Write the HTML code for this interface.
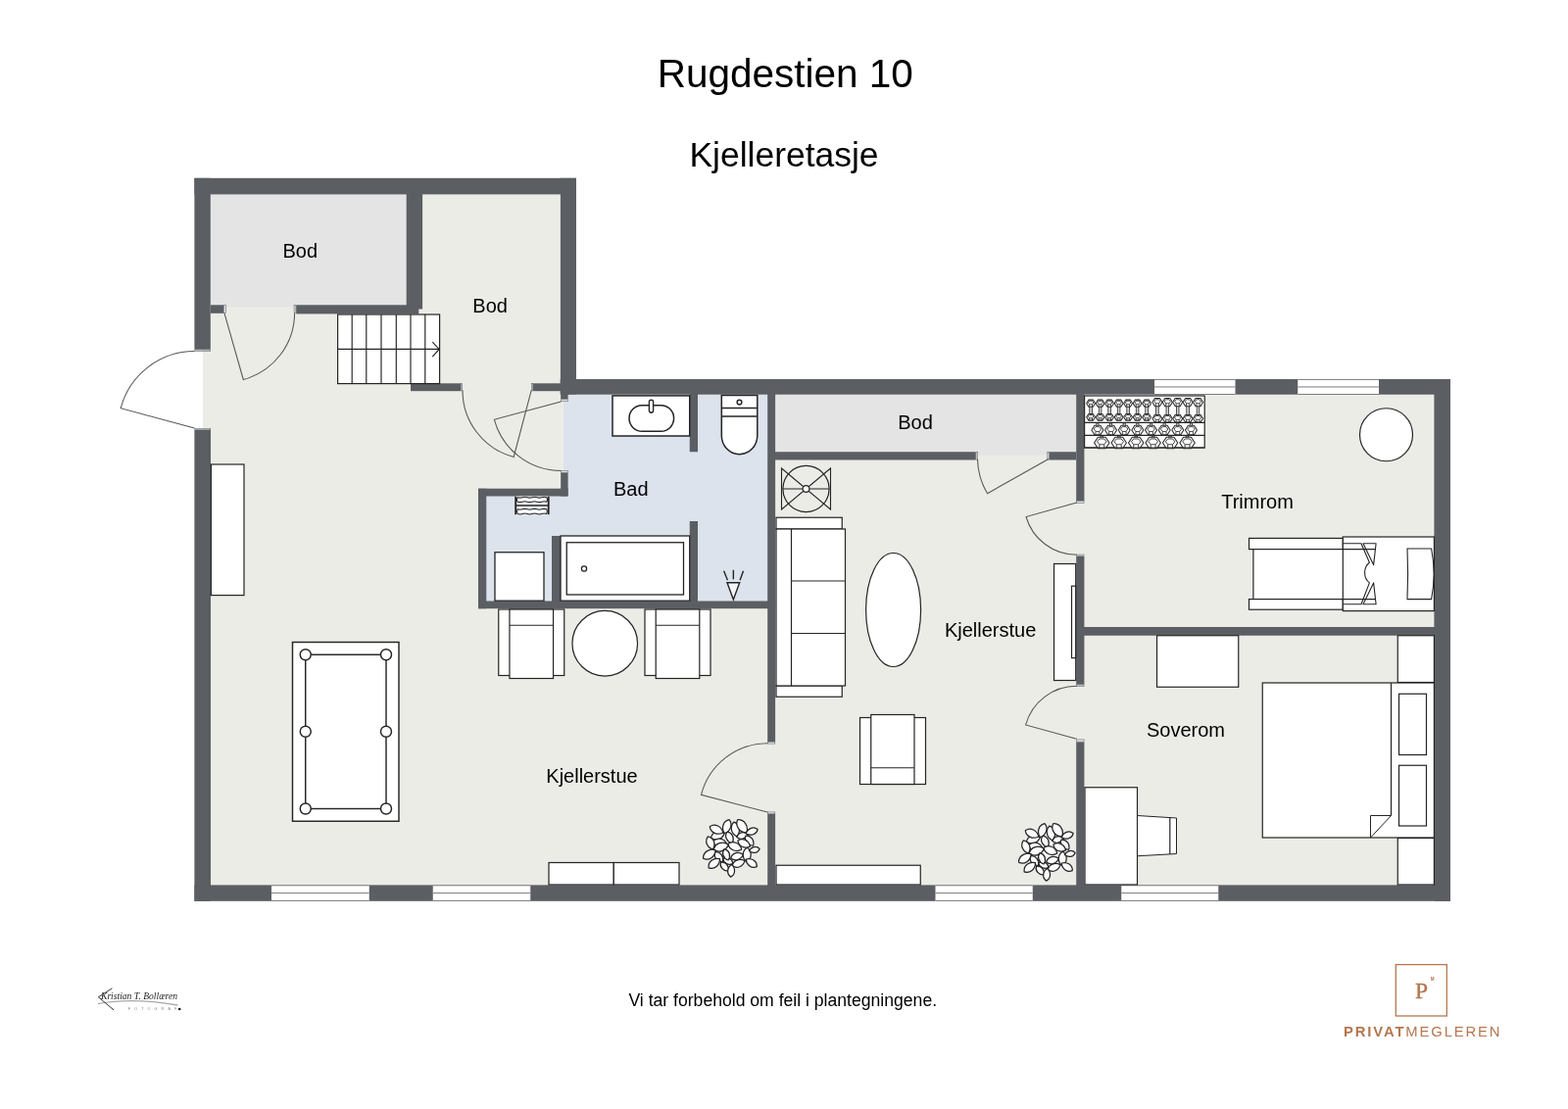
<!DOCTYPE html>
<html lang="no">
<head>
<meta charset="utf-8">
<title>Rugdestien 10 – Kjelleretasje</title>
<style>
html,body{margin:0;padding:0;background:#fff;}
body{width:1600px;height:1132px;overflow:hidden;}
svg{display:block;will-change:transform;}
svg text{font-family:"Liberation Sans",sans-serif;}
</style>
</head>
<body>
<svg width="1600" height="1132" viewBox="0 0 1600 1132">
<rect x="0" y="0" width="1600" height="1132" fill="#ffffff"/>
<path d="M207,190 H580 V395 H1472 V912 H207 Z" fill="#ebece6"/>
<rect x="215.00" y="198.00" width="200.00" height="115.70" fill="#e4e4e4" />
<rect x="790.00" y="402.00" width="308.00" height="62.50" fill="#e4e4e4" />
<path d="M575,402 H784 V614 H496 V506 H575 Z" fill="#dde3ec"/>
<rect x="198.40" y="181.80" width="389.60" height="16.60" fill="#5b5e62" />
<rect x="198.40" y="181.80" width="16.40" height="175.00" fill="#5b5e62" />
<rect x="198.40" y="439.00" width="16.60" height="480.80" fill="#5b5e62" />
<rect x="571.90" y="181.80" width="16.10" height="220.70" fill="#5b5e62" />
<rect x="572.20" y="402.00" width="7.40" height="5.50" fill="#5b5e62" />
<rect x="571.70" y="387.00" width="908.30" height="15.70" fill="#5b5e62" />
<rect x="1463.40" y="387.00" width="16.60" height="532.80" fill="#5b5e62" />
<rect x="198.40" y="903.40" width="1281.60" height="16.40" fill="#5b5e62" />
<rect x="414.70" y="198.00" width="16.40" height="117.50" fill="#5b5e62" />
<rect x="215.00" y="311.30" width="13.00" height="8.50" fill="#5b5e62" />
<rect x="302.20" y="311.30" width="125.10" height="9.10" fill="#5b5e62" />
<rect x="419.00" y="391.30" width="51.00" height="7.90" fill="#5b5e62" />
<rect x="544.00" y="391.30" width="28.00" height="7.90" fill="#5b5e62" />
<rect x="572.20" y="482.40" width="7.40" height="24.10" fill="#5b5e62" />
<rect x="488.00" y="498.70" width="91.60" height="7.80" fill="#5b5e62" />
<rect x="488.00" y="498.75" width="8.25" height="122.50" fill="#5b5e62" />
<rect x="488.00" y="613.50" width="303.10" height="7.70" fill="#5b5e62" />
<rect x="703.75" y="402.00" width="8.25" height="59.25" fill="#5b5e62" />
<rect x="703.75" y="532.00" width="8.25" height="82.00" fill="#5b5e62" />
<rect x="563.00" y="547.00" width="9.00" height="67.00" fill="#5b5e62" />
<rect x="783.20" y="402.00" width="7.90" height="355.00" fill="#5b5e62" />
<rect x="783.20" y="831.00" width="7.90" height="73.00" fill="#5b5e62" />
<rect x="790.00" y="461.25" width="205.75" height="8.25" fill="#5b5e62" />
<rect x="1070.50" y="461.25" width="27.50" height="8.25" fill="#5b5e62" />
<rect x="1098.20" y="402.00" width="8.20" height="109.25" fill="#5b5e62" />
<rect x="1098.20" y="568.00" width="8.20" height="130.75" fill="#5b5e62" />
<rect x="1098.20" y="757.40" width="8.20" height="146.60" fill="#5b5e62" />
<rect x="1106.00" y="640.00" width="358.00" height="8.75" fill="#5b5e62" />
<rect x="198.70" y="357.10" width="16.00" height="1.20" fill="#e6e6e6" stroke="#6a6d71" stroke-width="0.6" />
<rect x="198.70" y="437.50" width="16.00" height="1.20" fill="#e6e6e6" stroke="#6a6d71" stroke-width="0.6" />
<rect x="228.30" y="311.60" width="2.00" height="7.90" fill="#e6e6e6" stroke="#6a6d71" stroke-width="0.6" />
<rect x="300.10" y="311.60" width="1.80" height="7.90" fill="#e6e6e6" stroke="#6a6d71" stroke-width="0.6" />
<rect x="470.30" y="391.60" width="1.40" height="7.30" fill="#e6e6e6" stroke="#6a6d71" stroke-width="0.6" />
<rect x="542.30" y="391.60" width="1.40" height="7.30" fill="#e6e6e6" stroke="#6a6d71" stroke-width="0.6" />
<rect x="572.50" y="407.70" width="6.80" height="2.00" fill="#e6e6e6" stroke="#6a6d71" stroke-width="0.6" />
<rect x="572.50" y="480.50" width="6.80" height="1.80" fill="#e6e6e6" stroke="#6a6d71" stroke-width="0.6" />
<rect x="783.50" y="757.30" width="7.30" height="1.80" fill="#e6e6e6" stroke="#6a6d71" stroke-width="0.6" />
<rect x="783.50" y="828.90" width="7.30" height="1.80" fill="#e6e6e6" stroke="#6a6d71" stroke-width="0.6" />
<rect x="996.05" y="461.55" width="1.65" height="7.65" fill="#e6e6e6" stroke="#6a6d71" stroke-width="0.6" />
<rect x="1068.80" y="461.55" width="1.40" height="7.65" fill="#e6e6e6" stroke="#6a6d71" stroke-width="0.6" />
<rect x="1098.50" y="511.55" width="7.60" height="1.75" fill="#e6e6e6" stroke="#6a6d71" stroke-width="0.6" />
<rect x="1098.50" y="566.10" width="7.60" height="1.60" fill="#e6e6e6" stroke="#6a6d71" stroke-width="0.6" />
<rect x="1098.50" y="699.05" width="7.60" height="1.65" fill="#e6e6e6" stroke="#6a6d71" stroke-width="0.6" />
<rect x="1098.50" y="754.90" width="7.60" height="2.20" fill="#e6e6e6" stroke="#6a6d71" stroke-width="0.6" />
<rect x="277.00" y="903.50" width="99.75" height="16.20" fill="#fff" />
<line x1="277.00" y1="903.80" x2="376.75" y2="903.80" stroke="#7c7c7c" stroke-width="1.0"/>
<line x1="277.00" y1="911.60" x2="376.75" y2="911.60" stroke="#7c7c7c" stroke-width="1.0"/>
<line x1="277.00" y1="919.40" x2="376.75" y2="919.40" stroke="#7c7c7c" stroke-width="1.0"/>
<rect x="441.75" y="903.50" width="99.50" height="16.20" fill="#fff" />
<line x1="441.75" y1="903.80" x2="541.25" y2="903.80" stroke="#7c7c7c" stroke-width="1.0"/>
<line x1="441.75" y1="911.60" x2="541.25" y2="911.60" stroke="#7c7c7c" stroke-width="1.0"/>
<line x1="441.75" y1="919.40" x2="541.25" y2="919.40" stroke="#7c7c7c" stroke-width="1.0"/>
<rect x="954.50" y="903.50" width="99.25" height="16.20" fill="#fff" />
<line x1="954.50" y1="903.80" x2="1053.75" y2="903.80" stroke="#7c7c7c" stroke-width="1.0"/>
<line x1="954.50" y1="911.60" x2="1053.75" y2="911.60" stroke="#7c7c7c" stroke-width="1.0"/>
<line x1="954.50" y1="919.40" x2="1053.75" y2="919.40" stroke="#7c7c7c" stroke-width="1.0"/>
<rect x="1144.25" y="903.50" width="99.00" height="16.20" fill="#fff" />
<line x1="1144.25" y1="903.80" x2="1243.25" y2="903.80" stroke="#7c7c7c" stroke-width="1.0"/>
<line x1="1144.25" y1="911.60" x2="1243.25" y2="911.60" stroke="#7c7c7c" stroke-width="1.0"/>
<line x1="1144.25" y1="919.40" x2="1243.25" y2="919.40" stroke="#7c7c7c" stroke-width="1.0"/>
<rect x="1178.00" y="387.10" width="82.50" height="15.70" fill="#fff" />
<line x1="1178.00" y1="387.40" x2="1260.50" y2="387.40" stroke="#7c7c7c" stroke-width="1.0"/>
<line x1="1178.00" y1="394.95" x2="1260.50" y2="394.95" stroke="#7c7c7c" stroke-width="1.0"/>
<line x1="1178.00" y1="402.50" x2="1260.50" y2="402.50" stroke="#7c7c7c" stroke-width="1.0"/>
<rect x="1324.25" y="387.10" width="82.75" height="15.70" fill="#fff" />
<line x1="1324.25" y1="387.40" x2="1407.00" y2="387.40" stroke="#7c7c7c" stroke-width="1.0"/>
<line x1="1324.25" y1="394.95" x2="1407.00" y2="394.95" stroke="#7c7c7c" stroke-width="1.0"/>
<line x1="1324.25" y1="402.50" x2="1407.00" y2="402.50" stroke="#7c7c7c" stroke-width="1.0"/>
<path d="M198.40,437.00 L123.20,416.70 A77.89,77.89 0 0 1 198.40,358.50" fill="none" stroke="#565656" stroke-width="1.05" />
<path d="M228.90,319.40 L248.30,387.50 A70.81,70.81 0 0 0 300.60,319.40" fill="none" stroke="#565656" stroke-width="1.05" />
<path d="M542.20,398.30 L524.20,466.50 A70.54,70.54 0 0 1 472.00,398.30" fill="none" stroke="#565656" stroke-width="1.05" />
<path d="M572.40,410.00 L504.40,428.30 A70.42,70.42 0 0 0 572.40,480.50" fill="none" stroke="#565656" stroke-width="1.05" />
<path d="M783.25,829.00 L715.50,811.25 A70.04,70.04 0 0 1 783.25,758.75" fill="none" stroke="#565656" stroke-width="1.05" />
<path d="M1069.50,468.75 L1007.50,503.75 A71.20,71.20 0 0 1 997.50,468.75" fill="none" stroke="#565656" stroke-width="1.05" />
<path d="M1098.75,513.00 L1047.00,527.50 A53.74,53.74 0 0 0 1098.75,566.25" fill="none" stroke="#565656" stroke-width="1.05" />
<path d="M1098.60,754.20 L1046.60,739.90 A53.93,53.93 0 0 1 1098.60,700.30" fill="none" stroke="#565656" stroke-width="1.05" />
<rect x="344.60" y="321.00" width="104.00" height="70.60" fill="#fff" stroke="#242424" stroke-width="1.2" />
<line x1="359.20" y1="321.00" x2="359.20" y2="391.60" stroke="#242424" stroke-width="1.15"/>
<line x1="373.80" y1="321.00" x2="373.80" y2="391.60" stroke="#242424" stroke-width="1.15"/>
<line x1="389.00" y1="321.00" x2="389.00" y2="391.60" stroke="#242424" stroke-width="1.15"/>
<line x1="404.30" y1="321.00" x2="404.30" y2="391.60" stroke="#242424" stroke-width="1.15"/>
<line x1="419.00" y1="321.00" x2="419.00" y2="391.60" stroke="#242424" stroke-width="1.15"/>
<line x1="433.80" y1="321.00" x2="433.80" y2="391.60" stroke="#242424" stroke-width="1.15"/>
<line x1="344.60" y1="356.40" x2="448.20" y2="356.40" stroke="#242424" stroke-width="1.2"/>
<path d="M441.3,349.1 L448.1,356.4 L441.3,364.1" fill="none" stroke="#242424" stroke-width="1.2" />
<rect x="215.40" y="474.00" width="33.60" height="133.60" fill="#fff" stroke="#242424" stroke-width="1.2" />
<rect x="298.50" y="655.50" width="108.50" height="182.75" fill="#fff" stroke="#242424" stroke-width="1.45" />
<rect x="311.75" y="668.25" width="82.25" height="157.25" fill="none" stroke="#242424" stroke-width="1.45" />
<circle cx="311.75" cy="668.25" r="5.50" fill="#fff" stroke="#242424" stroke-width="1.45"/>
<circle cx="311.75" cy="746.75" r="5.50" fill="#fff" stroke="#242424" stroke-width="1.45"/>
<circle cx="311.75" cy="825.50" r="5.50" fill="#fff" stroke="#242424" stroke-width="1.45"/>
<circle cx="394.00" cy="668.25" r="5.50" fill="#fff" stroke="#242424" stroke-width="1.45"/>
<circle cx="394.00" cy="746.75" r="5.50" fill="#fff" stroke="#242424" stroke-width="1.45"/>
<circle cx="394.00" cy="825.50" r="5.50" fill="#fff" stroke="#242424" stroke-width="1.45"/>
<rect x="508.75" y="622.00" width="67.00" height="67.50" fill="#fff" stroke="#242424" stroke-width="1.2" />
<rect x="519.95" y="622.00" width="44.60" height="70.50" fill="#fff" stroke="#242424" stroke-width="1.2" />
<line x1="519.95" y1="638.25" x2="564.55" y2="638.25" stroke="#242424" stroke-width="1.2"/>
<rect x="658.00" y="622.00" width="67.00" height="67.50" fill="#fff" stroke="#242424" stroke-width="1.2" />
<rect x="669.20" y="622.00" width="44.60" height="70.50" fill="#fff" stroke="#242424" stroke-width="1.2" />
<line x1="669.20" y1="638.25" x2="713.80" y2="638.25" stroke="#242424" stroke-width="1.2"/>
<circle cx="617.25" cy="656.75" r="33.30" fill="#fff" stroke="#242424" stroke-width="1.2"/>
<rect x="560.00" y="880.50" width="66.25" height="22.50" fill="#fff" stroke="#242424" stroke-width="1.2" />
<rect x="626.25" y="880.50" width="66.75" height="22.50" fill="#fff" stroke="#242424" stroke-width="1.2" />
<rect x="625.00" y="403.90" width="78.75" height="41.10" fill="#fff" stroke="#242424" stroke-width="1.5" />
<rect x="642.00" y="413.70" width="45.60" height="26.60" fill="#fff" stroke="#242424" stroke-width="1.5" rx="13.2" ry="13.2"/>
<rect x="662.40" y="408.20" width="4.20" height="13.00" fill="#fff" stroke="#242424" stroke-width="1.4" rx="2.1" ry="2.1"/>
<path d="M736.3,403.6 H772.8 V444.5 A18.25,19.2 0 0 1 736.3,444.5 Z" fill="#fff" stroke="#242424" stroke-width="1.5" />
<line x1="736.30" y1="416.40" x2="772.80" y2="416.40" stroke="#242424" stroke-width="1.5"/>
<line x1="736.30" y1="424.90" x2="772.80" y2="424.90" stroke="#242424" stroke-width="1.5"/>
<circle cx="754.50" cy="410.60" r="2.40" fill="#fff" stroke="#242424" stroke-width="1.4"/>
<rect x="525.00" y="506.60" width="36.00" height="18.80" fill="#eef1f6" />
<path d="M528.20,507.70 q2.46,0.90 4.92,0 q2.46,-0.90 4.92,0 q2.46,0.90 4.92,0 q2.46,-0.90 4.92,0 q2.46,0.90 4.92,0 q2.46,-0.90 4.92,0 Q559.20,509.95 557.70,512.20 q-2.46,-0.90 -4.92,0 q-2.46,0.90 -4.92,0 q-2.46,-0.90 -4.92,0 q-2.46,0.90 -4.92,0 q-2.46,-0.90 -4.92,0 q-2.46,0.90 -4.92,0 Q526.70,509.95 528.20,507.70 Z" fill="#fff" stroke="#242424" stroke-width="1.1" />
<path d="M528.20,519.80 q2.46,0.90 4.92,0 q2.46,-0.90 4.92,0 q2.46,0.90 4.92,0 q2.46,-0.90 4.92,0 q2.46,0.90 4.92,0 q2.46,-0.90 4.92,0 Q559.20,522.15 557.70,524.50 q-2.46,-0.90 -4.92,0 q-2.46,0.90 -4.92,0 q-2.46,-0.90 -4.92,0 q-2.46,0.90 -4.92,0 q-2.46,-0.90 -4.92,0 q-2.46,0.90 -4.92,0 Q526.70,522.15 528.20,519.80 Z" fill="#fff" stroke="#242424" stroke-width="1.1" />
<line x1="526.20" y1="515.90" x2="559.70" y2="515.90" stroke="#242424" stroke-width="1.5"/>
<line x1="526.20" y1="506.60" x2="526.20" y2="525.20" stroke="#242424" stroke-width="1.9"/>
<line x1="559.70" y1="506.60" x2="559.70" y2="525.20" stroke="#242424" stroke-width="1.9"/>
<rect x="505.00" y="563.75" width="50.00" height="49.45" fill="#fff" stroke="#242424" stroke-width="1.3" />
<rect x="572.00" y="547.00" width="131.75" height="66.20" fill="#fff" stroke="#242424" stroke-width="1.3" />
<rect x="578.25" y="553.75" width="119.25" height="53.25" fill="#fff" stroke="#242424" stroke-width="1.3" />
<circle cx="596.00" cy="580.50" r="2.60" fill="#fff" stroke="#242424" stroke-width="1.3"/>
<path d="M742,594.7 H754.7 L748.35,611.9 Z" fill="#f4f6f9" stroke="#242424" stroke-width="1.4" stroke-linejoin="miter"/>
<line x1="738.60" y1="582.70" x2="742.40" y2="592.20" stroke="#242424" stroke-width="1.4"/>
<line x1="748.35" y1="581.80" x2="748.35" y2="591.30" stroke="#242424" stroke-width="1.4"/>
<line x1="758.50" y1="582.70" x2="755.10" y2="592.20" stroke="#242424" stroke-width="1.4"/>
<circle cx="822.50" cy="499.00" r="23.60" fill="none" stroke="#242424" stroke-width="1.2"/>
<path d="M797.5,478 V520 L847.5,478 V520 Z" fill="none" stroke="#242424" stroke-width="1.1" />
<line x1="799.00" y1="499.00" x2="846.00" y2="499.00" stroke="#242424" stroke-width="1.2"/>
<circle cx="822.50" cy="499.00" r="3.40" fill="#fff" stroke="#242424" stroke-width="1.2"/>
<rect x="792.00" y="528.25" width="67.25" height="11.75" fill="#fff" stroke="#242424" stroke-width="1.2" />
<rect x="792.00" y="700.00" width="67.25" height="11.25" fill="#fff" stroke="#242424" stroke-width="1.2" />
<rect x="792.00" y="540.00" width="70.50" height="160.00" fill="#fff" stroke="#242424" stroke-width="1.2" />
<line x1="807.50" y1="540.00" x2="807.50" y2="700.00" stroke="#242424" stroke-width="1.2"/>
<line x1="807.50" y1="593.00" x2="862.50" y2="593.00" stroke="#242424" stroke-width="1.2"/>
<line x1="807.50" y1="646.50" x2="862.50" y2="646.50" stroke="#242424" stroke-width="1.2"/>
<ellipse cx="911.60" cy="622.50" rx="28.00" ry="58.00" fill="#fff" stroke="#242424" stroke-width="1.2"/>
<rect x="1075.50" y="575.50" width="22.20" height="119.00" fill="#fff" stroke="#242424" stroke-width="1.2" />
<rect x="1093.50" y="598.20" width="4.20" height="73.40" fill="#fff" stroke="#242424" stroke-width="1.2" />
<rect x="877.50" y="732.50" width="67.00" height="68.00" fill="#fff" stroke="#242424" stroke-width="1.2" />
<rect x="888.75" y="729.50" width="44.25" height="71.00" fill="#fff" stroke="#242424" stroke-width="1.2" />
<line x1="888.75" y1="783.75" x2="933.00" y2="783.75" stroke="#242424" stroke-width="1.2"/>
<rect x="792.00" y="883.25" width="147.25" height="19.75" fill="#fff" stroke="#242424" stroke-width="1.2" />
<circle cx="746.50" cy="865.31" r="19" fill="#fcfcfc"/>
<path d="M725.46,855.10 C730.17,859.08 737.11,856.77 739.33,850.48 C733.78,846.78 726.84,849.09 725.46,855.10 Z" fill="#fcfcfc" stroke="#242424" stroke-width="1.25" stroke-linejoin="round"/>
<path d="M727.43,858.88 C729.67,864.58 736.82,865.85 741.73,861.40 C738.63,855.55 731.48,854.29 727.43,858.88 Z" fill="#fcfcfc" stroke="#242424" stroke-width="1.25" stroke-linejoin="round"/>
<path d="M728.24,867.03 C733.36,871.35 740.89,868.83 743.30,862.00 C737.28,857.99 729.74,860.50 728.24,867.03 Z" fill="#fcfcfc" stroke="#242424" stroke-width="1.25" stroke-linejoin="round"/>
<path d="M729.55,869.77 C727.81,874.82 731.85,879.70 737.62,879.53 C738.87,873.90 734.84,869.02 729.55,869.77 Z" fill="#fcfcfc" stroke="#242424" stroke-width="1.25" stroke-linejoin="round"/>
<path d="M751.68,854.27 C755.13,857.85 760.89,856.57 763.19,851.71 C759.04,848.28 753.29,849.56 751.68,854.27 Z" fill="#fcfcfc" stroke="#242424" stroke-width="1.25" stroke-linejoin="round"/>
<path d="M760.97,853.07 C758.98,858.05 762.80,863.14 768.60,863.25 C770.13,857.65 766.31,852.56 760.97,853.07 Z" fill="#fcfcfc" stroke="#242424" stroke-width="1.25" stroke-linejoin="round"/>
<path d="M752.90,857.99 C753.55,863.84 759.88,866.79 765.55,863.89 C764.13,857.68 757.80,854.73 752.90,857.99 Z" fill="#fcfcfc" stroke="#242424" stroke-width="1.25" stroke-linejoin="round"/>
<path d="M737.79,876.67 C738.36,881.40 743.49,883.75 748.06,881.37 C746.88,876.36 741.74,874.01 737.79,876.67 Z" fill="#fcfcfc" stroke="#242424" stroke-width="1.25" stroke-linejoin="round"/>
<path d="M747.32,883.74 C751.93,887.19 758.27,884.65 759.99,878.67 C754.62,875.53 748.29,878.07 747.32,883.74 Z" fill="#fcfcfc" stroke="#242424" stroke-width="1.25" stroke-linejoin="round"/>
<path d="M745.72,875.75 C749.73,879.57 756.08,877.88 758.42,872.36 C753.64,868.74 747.29,870.43 745.72,875.75 Z" fill="#fcfcfc" stroke="#242424" stroke-width="1.25" stroke-linejoin="round"/>
<path d="M741.97,849.04 C738.82,853.48 741.36,859.42 747.06,860.91 C749.90,855.76 747.36,849.82 741.97,849.04 Z" fill="#fcfcfc" stroke="#242424" stroke-width="1.25" stroke-linejoin="round"/>
<path d="M742.95,861.18 C743.89,867.46 750.81,870.40 756.81,867.06 C755.04,860.42 748.12,857.49 742.95,861.18 Z" fill="#fcfcfc" stroke="#242424" stroke-width="1.25" stroke-linejoin="round"/>
<path d="M739.22,866.52 C735.93,870.43 737.84,876.17 743.05,878.01 C746.12,873.41 744.20,867.67 739.22,866.52 Z" fill="#fcfcfc" stroke="#242424" stroke-width="1.25" stroke-linejoin="round"/>
<path d="M762.41,865.31 C757.02,868.39 756.81,875.75 761.99,880.02 C767.41,876.05 767.62,868.70 762.41,865.31 Z" fill="#fcfcfc" stroke="#242424" stroke-width="1.25" stroke-linejoin="round"/>
<path d="M724.28,843.68 C724.97,849.90 731.69,853.05 737.72,849.98 C736.23,843.38 729.51,840.22 724.28,843.68 Z" fill="#fcfcfc" stroke="#242424" stroke-width="1.25" stroke-linejoin="round"/>
<path d="M744.09,836.71 C738.03,838.01 735.59,844.94 739.22,850.58 C745.57,848.46 748.01,841.52 744.09,836.71 Z" fill="#fcfcfc" stroke="#242424" stroke-width="1.25" stroke-linejoin="round"/>
<path d="M749.05,839.08 C744.35,843.28 745.70,850.63 751.74,853.78 C756.28,848.70 754.94,841.35 749.05,839.08 Z" fill="#fcfcfc" stroke="#242424" stroke-width="1.25" stroke-linejoin="round"/>
<path d="M752.64,836.76 C749.84,843.02 754.44,849.70 761.83,850.14 C764.07,843.08 759.47,836.39 752.64,836.76 Z" fill="#fcfcfc" stroke="#242424" stroke-width="1.25" stroke-linejoin="round"/>
<path d="M773.11,846.50 C768.97,843.15 763.03,845.27 761.23,850.74 C766.08,853.83 772.02,851.71 773.11,846.50 Z" fill="#fcfcfc" stroke="#242424" stroke-width="1.25" stroke-linejoin="round"/>
<path d="M722.35,853.81 C718.79,858.57 721.41,865.10 727.57,866.87 C730.81,861.33 728.20,854.80 722.35,853.81 Z" fill="#fcfcfc" stroke="#242424" stroke-width="1.25" stroke-linejoin="round"/>
<path d="M717.55,876.26 C723.34,878.95 729.64,874.75 730.14,867.87 C723.60,865.69 717.30,869.88 717.55,876.26 Z" fill="#fcfcfc" stroke="#242424" stroke-width="1.25" stroke-linejoin="round"/>
<path d="M723.14,885.83 C728.97,887.88 734.64,883.26 734.49,876.58 C727.98,875.09 722.31,879.71 723.14,885.83 Z" fill="#fcfcfc" stroke="#242424" stroke-width="1.25" stroke-linejoin="round"/>
<path d="M735.51,880.11 C733.98,884.84 737.81,889.32 743.19,889.06 C744.26,883.79 740.42,879.32 735.51,880.11 Z" fill="#fcfcfc" stroke="#242424" stroke-width="1.25" stroke-linejoin="round"/>
<path d="M745.68,895.12 C750.45,892.63 750.87,886.27 746.53,882.40 C741.71,885.66 741.29,892.02 745.68,895.12 Z" fill="#fcfcfc" stroke="#242424" stroke-width="1.25" stroke-linejoin="round"/>
<path d="M772.27,884.62 C772.59,878.98 767.09,875.18 761.28,877.01 C761.62,883.09 767.11,886.90 772.27,884.62 Z" fill="#fcfcfc" stroke="#242424" stroke-width="1.25" stroke-linejoin="round"/>
<path d="M775.11,866.42 C771.98,863.04 766.62,864.11 764.39,868.57 C768.17,871.83 773.53,870.76 775.11,866.42 Z" fill="#fcfcfc" stroke="#242424" stroke-width="1.25" stroke-linejoin="round"/>
<circle cx="1068.50" cy="869.31" r="19" fill="#fcfcfc"/>
<path d="M1047.46,859.10 C1052.17,863.08 1059.11,860.77 1061.33,854.48 C1055.78,850.78 1048.84,853.09 1047.46,859.10 Z" fill="#fcfcfc" stroke="#242424" stroke-width="1.25" stroke-linejoin="round"/>
<path d="M1049.43,862.88 C1051.67,868.58 1058.82,869.85 1063.73,865.40 C1060.63,859.55 1053.48,858.29 1049.43,862.88 Z" fill="#fcfcfc" stroke="#242424" stroke-width="1.25" stroke-linejoin="round"/>
<path d="M1050.24,871.03 C1055.36,875.35 1062.89,872.83 1065.30,866.00 C1059.28,861.99 1051.74,864.50 1050.24,871.03 Z" fill="#fcfcfc" stroke="#242424" stroke-width="1.25" stroke-linejoin="round"/>
<path d="M1051.55,873.77 C1049.81,878.82 1053.85,883.70 1059.62,883.53 C1060.87,877.90 1056.84,873.02 1051.55,873.77 Z" fill="#fcfcfc" stroke="#242424" stroke-width="1.25" stroke-linejoin="round"/>
<path d="M1073.68,858.27 C1077.13,861.85 1082.89,860.57 1085.19,855.71 C1081.04,852.28 1075.29,853.56 1073.68,858.27 Z" fill="#fcfcfc" stroke="#242424" stroke-width="1.25" stroke-linejoin="round"/>
<path d="M1082.97,857.07 C1080.98,862.05 1084.80,867.14 1090.60,867.25 C1092.13,861.65 1088.31,856.56 1082.97,857.07 Z" fill="#fcfcfc" stroke="#242424" stroke-width="1.25" stroke-linejoin="round"/>
<path d="M1074.90,861.99 C1075.55,867.84 1081.88,870.79 1087.55,867.89 C1086.13,861.68 1079.80,858.73 1074.90,861.99 Z" fill="#fcfcfc" stroke="#242424" stroke-width="1.25" stroke-linejoin="round"/>
<path d="M1059.79,880.67 C1060.36,885.40 1065.49,887.75 1070.06,885.37 C1068.88,880.36 1063.74,878.01 1059.79,880.67 Z" fill="#fcfcfc" stroke="#242424" stroke-width="1.25" stroke-linejoin="round"/>
<path d="M1069.32,887.74 C1073.93,891.19 1080.27,888.65 1081.99,882.67 C1076.62,879.53 1070.29,882.07 1069.32,887.74 Z" fill="#fcfcfc" stroke="#242424" stroke-width="1.25" stroke-linejoin="round"/>
<path d="M1067.72,879.75 C1071.73,883.57 1078.08,881.88 1080.42,876.36 C1075.64,872.74 1069.29,874.43 1067.72,879.75 Z" fill="#fcfcfc" stroke="#242424" stroke-width="1.25" stroke-linejoin="round"/>
<path d="M1063.97,853.04 C1060.82,857.48 1063.36,863.42 1069.06,864.91 C1071.90,859.76 1069.36,853.82 1063.97,853.04 Z" fill="#fcfcfc" stroke="#242424" stroke-width="1.25" stroke-linejoin="round"/>
<path d="M1064.95,865.18 C1065.89,871.46 1072.81,874.40 1078.81,871.06 C1077.04,864.42 1070.12,861.49 1064.95,865.18 Z" fill="#fcfcfc" stroke="#242424" stroke-width="1.25" stroke-linejoin="round"/>
<path d="M1061.22,870.52 C1057.93,874.43 1059.84,880.17 1065.05,882.01 C1068.12,877.41 1066.20,871.67 1061.22,870.52 Z" fill="#fcfcfc" stroke="#242424" stroke-width="1.25" stroke-linejoin="round"/>
<path d="M1084.41,869.31 C1079.02,872.39 1078.81,879.75 1083.99,884.02 C1089.41,880.05 1089.62,872.70 1084.41,869.31 Z" fill="#fcfcfc" stroke="#242424" stroke-width="1.25" stroke-linejoin="round"/>
<path d="M1046.28,847.68 C1046.97,853.90 1053.69,857.05 1059.72,853.98 C1058.23,847.38 1051.51,844.22 1046.28,847.68 Z" fill="#fcfcfc" stroke="#242424" stroke-width="1.25" stroke-linejoin="round"/>
<path d="M1066.09,840.71 C1060.03,842.01 1057.59,848.94 1061.22,854.58 C1067.57,852.46 1070.01,845.52 1066.09,840.71 Z" fill="#fcfcfc" stroke="#242424" stroke-width="1.25" stroke-linejoin="round"/>
<path d="M1071.05,843.08 C1066.35,847.28 1067.70,854.63 1073.74,857.78 C1078.28,852.70 1076.94,845.35 1071.05,843.08 Z" fill="#fcfcfc" stroke="#242424" stroke-width="1.25" stroke-linejoin="round"/>
<path d="M1074.64,840.76 C1071.84,847.02 1076.44,853.70 1083.83,854.14 C1086.07,847.08 1081.47,840.39 1074.64,840.76 Z" fill="#fcfcfc" stroke="#242424" stroke-width="1.25" stroke-linejoin="round"/>
<path d="M1095.11,850.50 C1090.97,847.15 1085.03,849.27 1083.23,854.74 C1088.08,857.83 1094.02,855.71 1095.11,850.50 Z" fill="#fcfcfc" stroke="#242424" stroke-width="1.25" stroke-linejoin="round"/>
<path d="M1044.35,857.81 C1040.79,862.57 1043.41,869.10 1049.57,870.87 C1052.81,865.33 1050.20,858.80 1044.35,857.81 Z" fill="#fcfcfc" stroke="#242424" stroke-width="1.25" stroke-linejoin="round"/>
<path d="M1039.55,880.26 C1045.34,882.95 1051.64,878.75 1052.14,871.87 C1045.60,869.69 1039.30,873.88 1039.55,880.26 Z" fill="#fcfcfc" stroke="#242424" stroke-width="1.25" stroke-linejoin="round"/>
<path d="M1045.14,889.83 C1050.97,891.88 1056.64,887.26 1056.49,880.58 C1049.98,879.09 1044.31,883.71 1045.14,889.83 Z" fill="#fcfcfc" stroke="#242424" stroke-width="1.25" stroke-linejoin="round"/>
<path d="M1057.51,884.11 C1055.98,888.84 1059.81,893.32 1065.19,893.06 C1066.26,887.79 1062.42,883.32 1057.51,884.11 Z" fill="#fcfcfc" stroke="#242424" stroke-width="1.25" stroke-linejoin="round"/>
<path d="M1067.68,899.12 C1072.45,896.63 1072.87,890.27 1068.53,886.40 C1063.71,889.66 1063.29,896.02 1067.68,899.12 Z" fill="#fcfcfc" stroke="#242424" stroke-width="1.25" stroke-linejoin="round"/>
<path d="M1094.27,888.62 C1094.59,882.98 1089.09,879.18 1083.28,881.01 C1083.62,887.09 1089.11,890.90 1094.27,888.62 Z" fill="#fcfcfc" stroke="#242424" stroke-width="1.25" stroke-linejoin="round"/>
<path d="M1097.11,870.42 C1093.98,867.04 1088.62,868.11 1086.39,872.57 C1090.17,875.83 1095.53,874.76 1097.11,870.42 Z" fill="#fcfcfc" stroke="#242424" stroke-width="1.25" stroke-linejoin="round"/>
<rect x="1106.60" y="404.00" width="122.60" height="53.00" fill="#fff" stroke="#242424" stroke-width="1.2" />
<rect x="1111.80" y="414.50" width="2.60" height="9.00" fill="#d0d0d0" stroke="#2a2a2a" stroke-width="0.8" />
<path d="M1108.70,411.70 L1110.90,408.10 L1115.30,408.10 L1117.50,411.70 L1115.30,415.30 L1110.90,415.30 Z" fill="#fff" stroke="#2a2a2a" stroke-width="1.05" stroke-linejoin="round"/>
<path d="M1110.37,410.98 L1111.74,409.18 L1114.46,409.18 L1115.83,410.98 L1114.46,412.78 L1111.74,412.78 Z" fill="#fff" stroke="#2a2a2a" stroke-width="0.8400000000000001" stroke-linejoin="round"/>
<line x1="1111.69" y1="412.78" x2="1111.69" y2="415.30" stroke="#2a2a2a" stroke-width="0.8400000000000001"/>
<line x1="1114.51" y1="412.78" x2="1114.51" y2="415.30" stroke="#2a2a2a" stroke-width="0.8400000000000001"/>
<path d="M1108.70,425.80 L1110.90,422.50 L1115.30,422.50 L1117.50,425.80 L1115.30,429.10 L1110.90,429.10 Z" fill="#fff" stroke="#2a2a2a" stroke-width="1.05" stroke-linejoin="round"/>
<path d="M1110.37,425.14 L1111.74,423.49 L1114.46,423.49 L1115.83,425.14 L1114.46,426.79 L1111.74,426.79 Z" fill="#fff" stroke="#2a2a2a" stroke-width="0.8400000000000001" stroke-linejoin="round"/>
<line x1="1111.69" y1="426.79" x2="1111.69" y2="429.10" stroke="#2a2a2a" stroke-width="0.8400000000000001"/>
<line x1="1114.51" y1="426.79" x2="1114.51" y2="429.10" stroke="#2a2a2a" stroke-width="0.8400000000000001"/>
<rect x="1121.30" y="414.50" width="2.60" height="9.00" fill="#d0d0d0" stroke="#2a2a2a" stroke-width="0.8" />
<path d="M1118.20,411.70 L1120.40,408.10 L1124.80,408.10 L1127.00,411.70 L1124.80,415.30 L1120.40,415.30 Z" fill="#fff" stroke="#2a2a2a" stroke-width="1.05" stroke-linejoin="round"/>
<path d="M1119.87,410.98 L1121.24,409.18 L1123.96,409.18 L1125.33,410.98 L1123.96,412.78 L1121.24,412.78 Z" fill="#fff" stroke="#2a2a2a" stroke-width="0.8400000000000001" stroke-linejoin="round"/>
<line x1="1121.19" y1="412.78" x2="1121.19" y2="415.30" stroke="#2a2a2a" stroke-width="0.8400000000000001"/>
<line x1="1124.01" y1="412.78" x2="1124.01" y2="415.30" stroke="#2a2a2a" stroke-width="0.8400000000000001"/>
<path d="M1118.20,425.80 L1120.40,422.50 L1124.80,422.50 L1127.00,425.80 L1124.80,429.10 L1120.40,429.10 Z" fill="#fff" stroke="#2a2a2a" stroke-width="1.05" stroke-linejoin="round"/>
<path d="M1119.87,425.14 L1121.24,423.49 L1123.96,423.49 L1125.33,425.14 L1123.96,426.79 L1121.24,426.79 Z" fill="#fff" stroke="#2a2a2a" stroke-width="0.8400000000000001" stroke-linejoin="round"/>
<line x1="1121.19" y1="426.79" x2="1121.19" y2="429.10" stroke="#2a2a2a" stroke-width="0.8400000000000001"/>
<line x1="1124.01" y1="426.79" x2="1124.01" y2="429.10" stroke="#2a2a2a" stroke-width="0.8400000000000001"/>
<rect x="1130.80" y="414.50" width="2.60" height="9.00" fill="#d0d0d0" stroke="#2a2a2a" stroke-width="0.8" />
<path d="M1127.70,411.70 L1129.90,408.10 L1134.30,408.10 L1136.50,411.70 L1134.30,415.30 L1129.90,415.30 Z" fill="#fff" stroke="#2a2a2a" stroke-width="1.05" stroke-linejoin="round"/>
<path d="M1129.37,410.98 L1130.74,409.18 L1133.46,409.18 L1134.83,410.98 L1133.46,412.78 L1130.74,412.78 Z" fill="#fff" stroke="#2a2a2a" stroke-width="0.8400000000000001" stroke-linejoin="round"/>
<line x1="1130.69" y1="412.78" x2="1130.69" y2="415.30" stroke="#2a2a2a" stroke-width="0.8400000000000001"/>
<line x1="1133.51" y1="412.78" x2="1133.51" y2="415.30" stroke="#2a2a2a" stroke-width="0.8400000000000001"/>
<path d="M1127.70,425.80 L1129.90,422.50 L1134.30,422.50 L1136.50,425.80 L1134.30,429.10 L1129.90,429.10 Z" fill="#fff" stroke="#2a2a2a" stroke-width="1.05" stroke-linejoin="round"/>
<path d="M1129.37,425.14 L1130.74,423.49 L1133.46,423.49 L1134.83,425.14 L1133.46,426.79 L1130.74,426.79 Z" fill="#fff" stroke="#2a2a2a" stroke-width="0.8400000000000001" stroke-linejoin="round"/>
<line x1="1130.69" y1="426.79" x2="1130.69" y2="429.10" stroke="#2a2a2a" stroke-width="0.8400000000000001"/>
<line x1="1133.51" y1="426.79" x2="1133.51" y2="429.10" stroke="#2a2a2a" stroke-width="0.8400000000000001"/>
<rect x="1140.30" y="414.50" width="2.60" height="9.00" fill="#d0d0d0" stroke="#2a2a2a" stroke-width="0.8" />
<path d="M1137.20,411.70 L1139.40,408.10 L1143.80,408.10 L1146.00,411.70 L1143.80,415.30 L1139.40,415.30 Z" fill="#fff" stroke="#2a2a2a" stroke-width="1.05" stroke-linejoin="round"/>
<path d="M1138.87,410.98 L1140.24,409.18 L1142.96,409.18 L1144.33,410.98 L1142.96,412.78 L1140.24,412.78 Z" fill="#fff" stroke="#2a2a2a" stroke-width="0.8400000000000001" stroke-linejoin="round"/>
<line x1="1140.19" y1="412.78" x2="1140.19" y2="415.30" stroke="#2a2a2a" stroke-width="0.8400000000000001"/>
<line x1="1143.01" y1="412.78" x2="1143.01" y2="415.30" stroke="#2a2a2a" stroke-width="0.8400000000000001"/>
<path d="M1137.20,425.80 L1139.40,422.50 L1143.80,422.50 L1146.00,425.80 L1143.80,429.10 L1139.40,429.10 Z" fill="#fff" stroke="#2a2a2a" stroke-width="1.05" stroke-linejoin="round"/>
<path d="M1138.87,425.14 L1140.24,423.49 L1142.96,423.49 L1144.33,425.14 L1142.96,426.79 L1140.24,426.79 Z" fill="#fff" stroke="#2a2a2a" stroke-width="0.8400000000000001" stroke-linejoin="round"/>
<line x1="1140.19" y1="426.79" x2="1140.19" y2="429.10" stroke="#2a2a2a" stroke-width="0.8400000000000001"/>
<line x1="1143.01" y1="426.79" x2="1143.01" y2="429.10" stroke="#2a2a2a" stroke-width="0.8400000000000001"/>
<rect x="1149.80" y="414.50" width="2.60" height="9.00" fill="#d0d0d0" stroke="#2a2a2a" stroke-width="0.8" />
<path d="M1146.70,411.70 L1148.90,408.10 L1153.30,408.10 L1155.50,411.70 L1153.30,415.30 L1148.90,415.30 Z" fill="#fff" stroke="#2a2a2a" stroke-width="1.05" stroke-linejoin="round"/>
<path d="M1148.37,410.98 L1149.74,409.18 L1152.46,409.18 L1153.83,410.98 L1152.46,412.78 L1149.74,412.78 Z" fill="#fff" stroke="#2a2a2a" stroke-width="0.8400000000000001" stroke-linejoin="round"/>
<line x1="1149.69" y1="412.78" x2="1149.69" y2="415.30" stroke="#2a2a2a" stroke-width="0.8400000000000001"/>
<line x1="1152.51" y1="412.78" x2="1152.51" y2="415.30" stroke="#2a2a2a" stroke-width="0.8400000000000001"/>
<path d="M1146.70,425.80 L1148.90,422.50 L1153.30,422.50 L1155.50,425.80 L1153.30,429.10 L1148.90,429.10 Z" fill="#fff" stroke="#2a2a2a" stroke-width="1.05" stroke-linejoin="round"/>
<path d="M1148.37,425.14 L1149.74,423.49 L1152.46,423.49 L1153.83,425.14 L1152.46,426.79 L1149.74,426.79 Z" fill="#fff" stroke="#2a2a2a" stroke-width="0.8400000000000001" stroke-linejoin="round"/>
<line x1="1149.69" y1="426.79" x2="1149.69" y2="429.10" stroke="#2a2a2a" stroke-width="0.8400000000000001"/>
<line x1="1152.51" y1="426.79" x2="1152.51" y2="429.10" stroke="#2a2a2a" stroke-width="0.8400000000000001"/>
<rect x="1159.30" y="414.50" width="2.60" height="9.00" fill="#d0d0d0" stroke="#2a2a2a" stroke-width="0.8" />
<path d="M1156.20,411.70 L1158.40,408.10 L1162.80,408.10 L1165.00,411.70 L1162.80,415.30 L1158.40,415.30 Z" fill="#fff" stroke="#2a2a2a" stroke-width="1.05" stroke-linejoin="round"/>
<path d="M1157.87,410.98 L1159.24,409.18 L1161.96,409.18 L1163.33,410.98 L1161.96,412.78 L1159.24,412.78 Z" fill="#fff" stroke="#2a2a2a" stroke-width="0.8400000000000001" stroke-linejoin="round"/>
<line x1="1159.19" y1="412.78" x2="1159.19" y2="415.30" stroke="#2a2a2a" stroke-width="0.8400000000000001"/>
<line x1="1162.01" y1="412.78" x2="1162.01" y2="415.30" stroke="#2a2a2a" stroke-width="0.8400000000000001"/>
<path d="M1156.20,425.80 L1158.40,422.50 L1162.80,422.50 L1165.00,425.80 L1162.80,429.10 L1158.40,429.10 Z" fill="#fff" stroke="#2a2a2a" stroke-width="1.05" stroke-linejoin="round"/>
<path d="M1157.87,425.14 L1159.24,423.49 L1161.96,423.49 L1163.33,425.14 L1161.96,426.79 L1159.24,426.79 Z" fill="#fff" stroke="#2a2a2a" stroke-width="0.8400000000000001" stroke-linejoin="round"/>
<line x1="1159.19" y1="426.79" x2="1159.19" y2="429.10" stroke="#2a2a2a" stroke-width="0.8400000000000001"/>
<line x1="1162.01" y1="426.79" x2="1162.01" y2="429.10" stroke="#2a2a2a" stroke-width="0.8400000000000001"/>
<rect x="1168.80" y="414.50" width="2.60" height="9.00" fill="#d0d0d0" stroke="#2a2a2a" stroke-width="0.8" />
<path d="M1165.70,411.70 L1167.90,408.10 L1172.30,408.10 L1174.50,411.70 L1172.30,415.30 L1167.90,415.30 Z" fill="#fff" stroke="#2a2a2a" stroke-width="1.05" stroke-linejoin="round"/>
<path d="M1167.37,410.98 L1168.74,409.18 L1171.46,409.18 L1172.83,410.98 L1171.46,412.78 L1168.74,412.78 Z" fill="#fff" stroke="#2a2a2a" stroke-width="0.8400000000000001" stroke-linejoin="round"/>
<line x1="1168.69" y1="412.78" x2="1168.69" y2="415.30" stroke="#2a2a2a" stroke-width="0.8400000000000001"/>
<line x1="1171.51" y1="412.78" x2="1171.51" y2="415.30" stroke="#2a2a2a" stroke-width="0.8400000000000001"/>
<path d="M1165.70,425.80 L1167.90,422.50 L1172.30,422.50 L1174.50,425.80 L1172.30,429.10 L1167.90,429.10 Z" fill="#fff" stroke="#2a2a2a" stroke-width="1.05" stroke-linejoin="round"/>
<path d="M1167.37,425.14 L1168.74,423.49 L1171.46,423.49 L1172.83,425.14 L1171.46,426.79 L1168.74,426.79 Z" fill="#fff" stroke="#2a2a2a" stroke-width="0.8400000000000001" stroke-linejoin="round"/>
<line x1="1168.69" y1="426.79" x2="1168.69" y2="429.10" stroke="#2a2a2a" stroke-width="0.8400000000000001"/>
<line x1="1171.51" y1="426.79" x2="1171.51" y2="429.10" stroke="#2a2a2a" stroke-width="0.8400000000000001"/>
<rect x="1179.60" y="413.50" width="2.60" height="11.00" fill="#d0d0d0" stroke="#2a2a2a" stroke-width="0.8" />
<path d="M1175.90,410.60 L1178.40,406.50 L1183.40,406.50 L1185.90,410.60 L1183.40,414.70 L1178.40,414.70 Z" fill="#fff" stroke="#2a2a2a" stroke-width="1.05" stroke-linejoin="round"/>
<path d="M1177.80,409.78 L1179.35,407.73 L1182.45,407.73 L1184.00,409.78 L1182.45,411.83 L1179.35,411.83 Z" fill="#fff" stroke="#2a2a2a" stroke-width="0.8400000000000001" stroke-linejoin="round"/>
<line x1="1179.30" y1="411.83" x2="1179.30" y2="414.70" stroke="#2a2a2a" stroke-width="0.8400000000000001"/>
<line x1="1182.50" y1="411.83" x2="1182.50" y2="414.70" stroke="#2a2a2a" stroke-width="0.8400000000000001"/>
<path d="M1175.90,427.20 L1178.40,423.40 L1183.40,423.40 L1185.90,427.20 L1183.40,431.00 L1178.40,431.00 Z" fill="#fff" stroke="#2a2a2a" stroke-width="1.05" stroke-linejoin="round"/>
<path d="M1177.80,426.44 L1179.35,424.54 L1182.45,424.54 L1184.00,426.44 L1182.45,428.34 L1179.35,428.34 Z" fill="#fff" stroke="#2a2a2a" stroke-width="0.8400000000000001" stroke-linejoin="round"/>
<line x1="1179.30" y1="428.34" x2="1179.30" y2="431.00" stroke="#2a2a2a" stroke-width="0.8400000000000001"/>
<line x1="1182.50" y1="428.34" x2="1182.50" y2="431.00" stroke="#2a2a2a" stroke-width="0.8400000000000001"/>
<rect x="1190.00" y="413.50" width="2.60" height="11.00" fill="#d0d0d0" stroke="#2a2a2a" stroke-width="0.8" />
<path d="M1186.30,410.60 L1188.80,406.50 L1193.80,406.50 L1196.30,410.60 L1193.80,414.70 L1188.80,414.70 Z" fill="#fff" stroke="#2a2a2a" stroke-width="1.05" stroke-linejoin="round"/>
<path d="M1188.20,409.78 L1189.75,407.73 L1192.85,407.73 L1194.40,409.78 L1192.85,411.83 L1189.75,411.83 Z" fill="#fff" stroke="#2a2a2a" stroke-width="0.8400000000000001" stroke-linejoin="round"/>
<line x1="1189.70" y1="411.83" x2="1189.70" y2="414.70" stroke="#2a2a2a" stroke-width="0.8400000000000001"/>
<line x1="1192.90" y1="411.83" x2="1192.90" y2="414.70" stroke="#2a2a2a" stroke-width="0.8400000000000001"/>
<path d="M1186.30,427.20 L1188.80,423.40 L1193.80,423.40 L1196.30,427.20 L1193.80,431.00 L1188.80,431.00 Z" fill="#fff" stroke="#2a2a2a" stroke-width="1.05" stroke-linejoin="round"/>
<path d="M1188.20,426.44 L1189.75,424.54 L1192.85,424.54 L1194.40,426.44 L1192.85,428.34 L1189.75,428.34 Z" fill="#fff" stroke="#2a2a2a" stroke-width="0.8400000000000001" stroke-linejoin="round"/>
<line x1="1189.70" y1="428.34" x2="1189.70" y2="431.00" stroke="#2a2a2a" stroke-width="0.8400000000000001"/>
<line x1="1192.90" y1="428.34" x2="1192.90" y2="431.00" stroke="#2a2a2a" stroke-width="0.8400000000000001"/>
<rect x="1200.40" y="413.50" width="2.60" height="11.00" fill="#d0d0d0" stroke="#2a2a2a" stroke-width="0.8" />
<path d="M1196.70,410.60 L1199.20,406.50 L1204.20,406.50 L1206.70,410.60 L1204.20,414.70 L1199.20,414.70 Z" fill="#fff" stroke="#2a2a2a" stroke-width="1.05" stroke-linejoin="round"/>
<path d="M1198.60,409.78 L1200.15,407.73 L1203.25,407.73 L1204.80,409.78 L1203.25,411.83 L1200.15,411.83 Z" fill="#fff" stroke="#2a2a2a" stroke-width="0.8400000000000001" stroke-linejoin="round"/>
<line x1="1200.10" y1="411.83" x2="1200.10" y2="414.70" stroke="#2a2a2a" stroke-width="0.8400000000000001"/>
<line x1="1203.30" y1="411.83" x2="1203.30" y2="414.70" stroke="#2a2a2a" stroke-width="0.8400000000000001"/>
<path d="M1196.70,427.20 L1199.20,423.40 L1204.20,423.40 L1206.70,427.20 L1204.20,431.00 L1199.20,431.00 Z" fill="#fff" stroke="#2a2a2a" stroke-width="1.05" stroke-linejoin="round"/>
<path d="M1198.60,426.44 L1200.15,424.54 L1203.25,424.54 L1204.80,426.44 L1203.25,428.34 L1200.15,428.34 Z" fill="#fff" stroke="#2a2a2a" stroke-width="0.8400000000000001" stroke-linejoin="round"/>
<line x1="1200.10" y1="428.34" x2="1200.10" y2="431.00" stroke="#2a2a2a" stroke-width="0.8400000000000001"/>
<line x1="1203.30" y1="428.34" x2="1203.30" y2="431.00" stroke="#2a2a2a" stroke-width="0.8400000000000001"/>
<rect x="1210.80" y="413.50" width="2.60" height="11.00" fill="#d0d0d0" stroke="#2a2a2a" stroke-width="0.8" />
<path d="M1207.10,410.60 L1209.60,406.50 L1214.60,406.50 L1217.10,410.60 L1214.60,414.70 L1209.60,414.70 Z" fill="#fff" stroke="#2a2a2a" stroke-width="1.05" stroke-linejoin="round"/>
<path d="M1209.00,409.78 L1210.55,407.73 L1213.65,407.73 L1215.20,409.78 L1213.65,411.83 L1210.55,411.83 Z" fill="#fff" stroke="#2a2a2a" stroke-width="0.8400000000000001" stroke-linejoin="round"/>
<line x1="1210.50" y1="411.83" x2="1210.50" y2="414.70" stroke="#2a2a2a" stroke-width="0.8400000000000001"/>
<line x1="1213.70" y1="411.83" x2="1213.70" y2="414.70" stroke="#2a2a2a" stroke-width="0.8400000000000001"/>
<path d="M1207.10,427.20 L1209.60,423.40 L1214.60,423.40 L1217.10,427.20 L1214.60,431.00 L1209.60,431.00 Z" fill="#fff" stroke="#2a2a2a" stroke-width="1.05" stroke-linejoin="round"/>
<path d="M1209.00,426.44 L1210.55,424.54 L1213.65,424.54 L1215.20,426.44 L1213.65,428.34 L1210.55,428.34 Z" fill="#fff" stroke="#2a2a2a" stroke-width="0.8400000000000001" stroke-linejoin="round"/>
<line x1="1210.50" y1="428.34" x2="1210.50" y2="431.00" stroke="#2a2a2a" stroke-width="0.8400000000000001"/>
<line x1="1213.70" y1="428.34" x2="1213.70" y2="431.00" stroke="#2a2a2a" stroke-width="0.8400000000000001"/>
<rect x="1221.20" y="413.50" width="2.60" height="11.00" fill="#d0d0d0" stroke="#2a2a2a" stroke-width="0.8" />
<path d="M1217.50,410.60 L1220.00,406.50 L1225.00,406.50 L1227.50,410.60 L1225.00,414.70 L1220.00,414.70 Z" fill="#fff" stroke="#2a2a2a" stroke-width="1.05" stroke-linejoin="round"/>
<path d="M1219.40,409.78 L1220.95,407.73 L1224.05,407.73 L1225.60,409.78 L1224.05,411.83 L1220.95,411.83 Z" fill="#fff" stroke="#2a2a2a" stroke-width="0.8400000000000001" stroke-linejoin="round"/>
<line x1="1220.90" y1="411.83" x2="1220.90" y2="414.70" stroke="#2a2a2a" stroke-width="0.8400000000000001"/>
<line x1="1224.10" y1="411.83" x2="1224.10" y2="414.70" stroke="#2a2a2a" stroke-width="0.8400000000000001"/>
<path d="M1217.50,427.20 L1220.00,423.40 L1225.00,423.40 L1227.50,427.20 L1225.00,431.00 L1220.00,431.00 Z" fill="#fff" stroke="#2a2a2a" stroke-width="1.05" stroke-linejoin="round"/>
<path d="M1219.40,426.44 L1220.95,424.54 L1224.05,424.54 L1225.60,426.44 L1224.05,428.34 L1220.95,428.34 Z" fill="#fff" stroke="#2a2a2a" stroke-width="0.8400000000000001" stroke-linejoin="round"/>
<line x1="1220.90" y1="428.34" x2="1220.90" y2="431.00" stroke="#2a2a2a" stroke-width="0.8400000000000001"/>
<line x1="1224.10" y1="428.34" x2="1224.10" y2="431.00" stroke="#2a2a2a" stroke-width="0.8400000000000001"/>
<line x1="1106.60" y1="431.30" x2="1229.20" y2="431.30" stroke="#242424" stroke-width="1.2"/>
<line x1="1106.60" y1="444.40" x2="1229.20" y2="444.40" stroke="#242424" stroke-width="1.2"/>
<rect x="1118.80" y="432.00" width="2.20" height="3.50" fill="#fff" stroke="#2a2a2a" stroke-width="0.8" />
<path d="M1113.90,439.00 L1116.90,434.20 L1122.90,434.20 L1125.90,439.00 L1122.90,443.80 L1116.90,443.80 Z" fill="#fff" stroke="#2a2a2a" stroke-width="1.05" stroke-linejoin="round"/>
<path d="M1116.18,438.04 L1118.04,435.64 L1121.76,435.64 L1123.62,438.04 L1121.76,440.44 L1118.04,440.44 Z" fill="#fff" stroke="#2a2a2a" stroke-width="0.8400000000000001" stroke-linejoin="round"/>
<line x1="1117.98" y1="440.44" x2="1117.98" y2="443.80" stroke="#2a2a2a" stroke-width="0.8400000000000001"/>
<line x1="1121.82" y1="440.44" x2="1121.82" y2="443.80" stroke="#2a2a2a" stroke-width="0.8400000000000001"/>
<rect x="1132.45" y="432.00" width="2.20" height="3.50" fill="#fff" stroke="#2a2a2a" stroke-width="0.8" />
<path d="M1127.55,439.00 L1130.55,434.20 L1136.55,434.20 L1139.55,439.00 L1136.55,443.80 L1130.55,443.80 Z" fill="#fff" stroke="#2a2a2a" stroke-width="1.05" stroke-linejoin="round"/>
<path d="M1129.83,438.04 L1131.69,435.64 L1135.41,435.64 L1137.27,438.04 L1135.41,440.44 L1131.69,440.44 Z" fill="#fff" stroke="#2a2a2a" stroke-width="0.8400000000000001" stroke-linejoin="round"/>
<line x1="1131.63" y1="440.44" x2="1131.63" y2="443.80" stroke="#2a2a2a" stroke-width="0.8400000000000001"/>
<line x1="1135.47" y1="440.44" x2="1135.47" y2="443.80" stroke="#2a2a2a" stroke-width="0.8400000000000001"/>
<rect x="1146.10" y="432.00" width="2.20" height="3.50" fill="#fff" stroke="#2a2a2a" stroke-width="0.8" />
<path d="M1141.20,439.00 L1144.20,434.20 L1150.20,434.20 L1153.20,439.00 L1150.20,443.80 L1144.20,443.80 Z" fill="#fff" stroke="#2a2a2a" stroke-width="1.05" stroke-linejoin="round"/>
<path d="M1143.48,438.04 L1145.34,435.64 L1149.06,435.64 L1150.92,438.04 L1149.06,440.44 L1145.34,440.44 Z" fill="#fff" stroke="#2a2a2a" stroke-width="0.8400000000000001" stroke-linejoin="round"/>
<line x1="1145.28" y1="440.44" x2="1145.28" y2="443.80" stroke="#2a2a2a" stroke-width="0.8400000000000001"/>
<line x1="1149.12" y1="440.44" x2="1149.12" y2="443.80" stroke="#2a2a2a" stroke-width="0.8400000000000001"/>
<rect x="1159.75" y="432.00" width="2.20" height="3.50" fill="#fff" stroke="#2a2a2a" stroke-width="0.8" />
<path d="M1154.85,439.00 L1157.85,434.20 L1163.85,434.20 L1166.85,439.00 L1163.85,443.80 L1157.85,443.80 Z" fill="#fff" stroke="#2a2a2a" stroke-width="1.05" stroke-linejoin="round"/>
<path d="M1157.13,438.04 L1158.99,435.64 L1162.71,435.64 L1164.57,438.04 L1162.71,440.44 L1158.99,440.44 Z" fill="#fff" stroke="#2a2a2a" stroke-width="0.8400000000000001" stroke-linejoin="round"/>
<line x1="1158.93" y1="440.44" x2="1158.93" y2="443.80" stroke="#2a2a2a" stroke-width="0.8400000000000001"/>
<line x1="1162.77" y1="440.44" x2="1162.77" y2="443.80" stroke="#2a2a2a" stroke-width="0.8400000000000001"/>
<rect x="1173.40" y="432.00" width="2.20" height="3.50" fill="#fff" stroke="#2a2a2a" stroke-width="0.8" />
<path d="M1168.50,439.00 L1171.50,434.20 L1177.50,434.20 L1180.50,439.00 L1177.50,443.80 L1171.50,443.80 Z" fill="#fff" stroke="#2a2a2a" stroke-width="1.05" stroke-linejoin="round"/>
<path d="M1170.78,438.04 L1172.64,435.64 L1176.36,435.64 L1178.22,438.04 L1176.36,440.44 L1172.64,440.44 Z" fill="#fff" stroke="#2a2a2a" stroke-width="0.8400000000000001" stroke-linejoin="round"/>
<line x1="1172.58" y1="440.44" x2="1172.58" y2="443.80" stroke="#2a2a2a" stroke-width="0.8400000000000001"/>
<line x1="1176.42" y1="440.44" x2="1176.42" y2="443.80" stroke="#2a2a2a" stroke-width="0.8400000000000001"/>
<rect x="1187.05" y="432.00" width="2.20" height="3.50" fill="#fff" stroke="#2a2a2a" stroke-width="0.8" />
<path d="M1182.15,439.00 L1185.15,434.20 L1191.15,434.20 L1194.15,439.00 L1191.15,443.80 L1185.15,443.80 Z" fill="#fff" stroke="#2a2a2a" stroke-width="1.05" stroke-linejoin="round"/>
<path d="M1184.43,438.04 L1186.29,435.64 L1190.01,435.64 L1191.87,438.04 L1190.01,440.44 L1186.29,440.44 Z" fill="#fff" stroke="#2a2a2a" stroke-width="0.8400000000000001" stroke-linejoin="round"/>
<line x1="1186.23" y1="440.44" x2="1186.23" y2="443.80" stroke="#2a2a2a" stroke-width="0.8400000000000001"/>
<line x1="1190.07" y1="440.44" x2="1190.07" y2="443.80" stroke="#2a2a2a" stroke-width="0.8400000000000001"/>
<rect x="1200.70" y="432.00" width="2.20" height="3.50" fill="#fff" stroke="#2a2a2a" stroke-width="0.8" />
<path d="M1195.80,439.00 L1198.80,434.20 L1204.80,434.20 L1207.80,439.00 L1204.80,443.80 L1198.80,443.80 Z" fill="#fff" stroke="#2a2a2a" stroke-width="1.05" stroke-linejoin="round"/>
<path d="M1198.08,438.04 L1199.94,435.64 L1203.66,435.64 L1205.52,438.04 L1203.66,440.44 L1199.94,440.44 Z" fill="#fff" stroke="#2a2a2a" stroke-width="0.8400000000000001" stroke-linejoin="round"/>
<line x1="1199.88" y1="440.44" x2="1199.88" y2="443.80" stroke="#2a2a2a" stroke-width="0.8400000000000001"/>
<line x1="1203.72" y1="440.44" x2="1203.72" y2="443.80" stroke="#2a2a2a" stroke-width="0.8400000000000001"/>
<rect x="1214.35" y="432.00" width="2.20" height="3.50" fill="#fff" stroke="#2a2a2a" stroke-width="0.8" />
<path d="M1209.45,439.00 L1212.45,434.20 L1218.45,434.20 L1221.45,439.00 L1218.45,443.80 L1212.45,443.80 Z" fill="#fff" stroke="#2a2a2a" stroke-width="1.05" stroke-linejoin="round"/>
<path d="M1211.73,438.04 L1213.59,435.64 L1217.31,435.64 L1219.17,438.04 L1217.31,440.44 L1213.59,440.44 Z" fill="#fff" stroke="#2a2a2a" stroke-width="0.8400000000000001" stroke-linejoin="round"/>
<line x1="1213.53" y1="440.44" x2="1213.53" y2="443.80" stroke="#2a2a2a" stroke-width="0.8400000000000001"/>
<line x1="1217.37" y1="440.44" x2="1217.37" y2="443.80" stroke="#2a2a2a" stroke-width="0.8400000000000001"/>
<rect x="1122.90" y="445.20" width="2.80" height="3.40" fill="#fff" stroke="#2a2a2a" stroke-width="0.8" />
<path d="M1116.60,452.00 L1120.45,446.20 L1128.15,446.20 L1132.00,452.00 L1128.15,457.80 L1120.45,457.80 Z" fill="#fff" stroke="#2a2a2a" stroke-width="1.1" stroke-linejoin="round"/>
<path d="M1119.53,450.84 L1121.91,447.94 L1126.69,447.94 L1129.07,450.84 L1126.69,453.74 L1121.91,453.74 Z" fill="#fff" stroke="#2a2a2a" stroke-width="0.8800000000000001" stroke-linejoin="round"/>
<line x1="1121.84" y1="453.74" x2="1121.84" y2="457.80" stroke="#2a2a2a" stroke-width="0.8800000000000001"/>
<line x1="1126.76" y1="453.74" x2="1126.76" y2="457.80" stroke="#2a2a2a" stroke-width="0.8800000000000001"/>
<rect x="1140.35" y="445.20" width="2.80" height="3.40" fill="#fff" stroke="#2a2a2a" stroke-width="0.8" />
<path d="M1134.05,452.00 L1137.90,446.20 L1145.60,446.20 L1149.45,452.00 L1145.60,457.80 L1137.90,457.80 Z" fill="#fff" stroke="#2a2a2a" stroke-width="1.1" stroke-linejoin="round"/>
<path d="M1136.98,450.84 L1139.36,447.94 L1144.14,447.94 L1146.52,450.84 L1144.14,453.74 L1139.36,453.74 Z" fill="#fff" stroke="#2a2a2a" stroke-width="0.8800000000000001" stroke-linejoin="round"/>
<line x1="1139.29" y1="453.74" x2="1139.29" y2="457.80" stroke="#2a2a2a" stroke-width="0.8800000000000001"/>
<line x1="1144.21" y1="453.74" x2="1144.21" y2="457.80" stroke="#2a2a2a" stroke-width="0.8800000000000001"/>
<rect x="1157.80" y="445.20" width="2.80" height="3.40" fill="#fff" stroke="#2a2a2a" stroke-width="0.8" />
<path d="M1151.50,452.00 L1155.35,446.20 L1163.05,446.20 L1166.90,452.00 L1163.05,457.80 L1155.35,457.80 Z" fill="#fff" stroke="#2a2a2a" stroke-width="1.1" stroke-linejoin="round"/>
<path d="M1154.43,450.84 L1156.81,447.94 L1161.59,447.94 L1163.97,450.84 L1161.59,453.74 L1156.81,453.74 Z" fill="#fff" stroke="#2a2a2a" stroke-width="0.8800000000000001" stroke-linejoin="round"/>
<line x1="1156.74" y1="453.74" x2="1156.74" y2="457.80" stroke="#2a2a2a" stroke-width="0.8800000000000001"/>
<line x1="1161.66" y1="453.74" x2="1161.66" y2="457.80" stroke="#2a2a2a" stroke-width="0.8800000000000001"/>
<rect x="1175.25" y="445.20" width="2.80" height="3.40" fill="#fff" stroke="#2a2a2a" stroke-width="0.8" />
<path d="M1168.95,452.00 L1172.80,446.20 L1180.50,446.20 L1184.35,452.00 L1180.50,457.80 L1172.80,457.80 Z" fill="#fff" stroke="#2a2a2a" stroke-width="1.1" stroke-linejoin="round"/>
<path d="M1171.88,450.84 L1174.26,447.94 L1179.04,447.94 L1181.42,450.84 L1179.04,453.74 L1174.26,453.74 Z" fill="#fff" stroke="#2a2a2a" stroke-width="0.8800000000000001" stroke-linejoin="round"/>
<line x1="1174.19" y1="453.74" x2="1174.19" y2="457.80" stroke="#2a2a2a" stroke-width="0.8800000000000001"/>
<line x1="1179.11" y1="453.74" x2="1179.11" y2="457.80" stroke="#2a2a2a" stroke-width="0.8800000000000001"/>
<rect x="1192.70" y="445.20" width="2.80" height="3.40" fill="#fff" stroke="#2a2a2a" stroke-width="0.8" />
<path d="M1186.40,452.00 L1190.25,446.20 L1197.95,446.20 L1201.80,452.00 L1197.95,457.80 L1190.25,457.80 Z" fill="#fff" stroke="#2a2a2a" stroke-width="1.1" stroke-linejoin="round"/>
<path d="M1189.33,450.84 L1191.71,447.94 L1196.49,447.94 L1198.87,450.84 L1196.49,453.74 L1191.71,453.74 Z" fill="#fff" stroke="#2a2a2a" stroke-width="0.8800000000000001" stroke-linejoin="round"/>
<line x1="1191.64" y1="453.74" x2="1191.64" y2="457.80" stroke="#2a2a2a" stroke-width="0.8800000000000001"/>
<line x1="1196.56" y1="453.74" x2="1196.56" y2="457.80" stroke="#2a2a2a" stroke-width="0.8800000000000001"/>
<rect x="1210.15" y="445.20" width="2.80" height="3.40" fill="#fff" stroke="#2a2a2a" stroke-width="0.8" />
<path d="M1203.85,452.00 L1207.70,446.20 L1215.40,446.20 L1219.25,452.00 L1215.40,457.80 L1207.70,457.80 Z" fill="#fff" stroke="#2a2a2a" stroke-width="1.1" stroke-linejoin="round"/>
<path d="M1206.78,450.84 L1209.16,447.94 L1213.94,447.94 L1216.32,450.84 L1213.94,453.74 L1209.16,453.74 Z" fill="#fff" stroke="#2a2a2a" stroke-width="0.8800000000000001" stroke-linejoin="round"/>
<line x1="1209.09" y1="453.74" x2="1209.09" y2="457.80" stroke="#2a2a2a" stroke-width="0.8800000000000001"/>
<line x1="1214.01" y1="453.74" x2="1214.01" y2="457.80" stroke="#2a2a2a" stroke-width="0.8800000000000001"/>
<line x1="1106.60" y1="457.00" x2="1229.20" y2="457.00" stroke="#242424" stroke-width="1.2"/>
<circle cx="1414.50" cy="443.75" r="27.00" fill="#fff" stroke="#242424" stroke-width="1.2"/>
<rect x="1278.90" y="560.00" width="91.40" height="52.00" fill="#fff" />
<rect x="1274.50" y="549.40" width="95.80" height="11.20" fill="#fff" stroke="#242424" stroke-width="1.2" />
<rect x="1274.50" y="611.60" width="95.80" height="10.60" fill="#fff" stroke="#242424" stroke-width="1.2" />
<line x1="1278.90" y1="560.60" x2="1278.90" y2="611.60" stroke="#242424" stroke-width="1.2"/>
<rect x="1370.30" y="548.00" width="93.10" height="75.60" fill="#fff" stroke="#242424" stroke-width="1.2" />
<path d="M1391,554.7 H1404.1 L1401.6,576.6 Z" fill="#fff" stroke="#242424" stroke-width="1.1" stroke-linejoin="round"/>
<path d="M1391,616.7 H1404.1 L1401.6,594.9 Z" fill="#fff" stroke="#242424" stroke-width="1.1" stroke-linejoin="round"/>
<path d="M1370.3,554.7 H1389 L1397.4,574.2 C1391,579 1391,590 1397.4,594.9 L1389,616.7 H1370.3" fill="none" stroke="#242424" stroke-width="1.1" stroke-linejoin="round"/>
<line x1="1370.30" y1="560.60" x2="1403.40" y2="560.60" stroke="#242424" stroke-width="1.1"/>
<line x1="1370.30" y1="611.60" x2="1403.40" y2="611.60" stroke="#242424" stroke-width="1.1"/>
<path d="M1436,560 H1460.6 Q1465.6,585.8 1460.6,611.6 H1436 Q1437.2,585.8 1436,560 Z" fill="#fff" stroke="#242424" stroke-width="1.1" />
<rect x="1180.50" y="648.75" width="83.25" height="52.50" fill="#fff" stroke="#242424" stroke-width="1.2" />
<rect x="1426.25" y="648.75" width="37.15" height="47.75" fill="#fff" stroke="#242424" stroke-width="1.2" />
<rect x="1426.25" y="855.50" width="37.15" height="47.50" fill="#fff" stroke="#242424" stroke-width="1.2" />
<rect x="1288.25" y="697.00" width="175.15" height="158.00" fill="#fff" stroke="#242424" stroke-width="1.2" />
<line x1="1419.50" y1="697.00" x2="1419.50" y2="832.50" stroke="#242424" stroke-width="1.2"/>
<rect x="1427.50" y="708.25" width="28.00" height="62.25" fill="#fff" stroke="#242424" stroke-width="1.2" />
<rect x="1427.50" y="781.25" width="28.00" height="61.75" fill="#fff" stroke="#242424" stroke-width="1.2" />
<path d="M1398.5,832.5 H1419.5 L1398.5,855 Z" fill="#fff" stroke="#242424" stroke-width="1.0" />
<rect x="1107.00" y="803.75" width="53.50" height="99.25" fill="#fff" stroke="#242424" stroke-width="1.2" />
<path d="M1160.5,832.5 L1200.5,835 V871.5 L1160.5,873.75 Z" fill="#fff" stroke="#242424" stroke-width="1.0" />
<line x1="1193.80" y1="834.60" x2="1193.80" y2="871.90" stroke="#242424" stroke-width="1.2"/>
<text x="801.25" y="89.40" font-size="40.5" text-anchor="middle" >Rugdestien 10</text>
<text x="800.00" y="170.20" font-size="35.45" text-anchor="middle" >Kjelleretasje</text>
<text x="306.30" y="262.70" font-size="20" text-anchor="middle" >Bod</text>
<text x="500.10" y="319.10" font-size="20" text-anchor="middle" >Bod</text>
<text x="934.00" y="437.50" font-size="20" text-anchor="middle" >Bod</text>
<text x="643.80" y="505.60" font-size="20" text-anchor="middle" >Bad</text>
<text x="604.00" y="798.80" font-size="20" text-anchor="middle" >Kjellerstue</text>
<text x="1010.60" y="649.60" font-size="20" text-anchor="middle" >Kjellerstue</text>
<text x="1283.00" y="518.80" font-size="20" text-anchor="middle" >Trimrom</text>
<text x="1210.00" y="752.20" font-size="20" text-anchor="middle" >Soverom</text>
<text x="798.75" y="1027.20" font-size="17.6" text-anchor="middle" >Vi tar forbehold om feil i plantegningene.</text>
<rect x="1424.30" y="984.60" width="52.00" height="52.40" fill="none" stroke="#b5764f" stroke-width="1.3" />
<text x="1444" y="1019" style="font-family:'Liberation Serif',serif" font-size="23.5" fill="#b5764f" stroke="#b5764f" stroke-width="0.35">P</text>
<text x="1461.7" y="1001.3" font-size="4.6" text-anchor="middle" fill="#b5764f" font-weight="bold">M</text>
<text x="1371" y="1058.3" font-size="14.8" fill="#b5764f" textLength="159.5" lengthAdjust="spacing"><tspan font-weight="bold">PRIVAT</tspan>MEGLEREN</text>
<path d="M99.9,1024.6 Q135,1018.2 181.3,1026" fill="none" stroke="#a8a8a8" stroke-width="1.3"/>
<text x="103" y="1020.4" style="font-family:'Liberation Serif',serif" font-style="italic" font-size="10.5" fill="#1c1c1c" textLength="78" lengthAdjust="spacingAndGlyphs">Kristian T. Bollæren</text>
<path d="M114.4,1008.8 L100.4,1017.8 L116,1030.9" fill="none" stroke="#1c1c1c" stroke-width="0.9" stroke-linejoin="round"/>
<text x="130.8" y="1031" font-size="3.7" fill="#7d7d7d" textLength="49.5" lengthAdjust="spacing">FOTOGRAF</text>
<circle cx="183.2" cy="1030" r="1.35" fill="#111"/>
</svg>
</body>
</html>
